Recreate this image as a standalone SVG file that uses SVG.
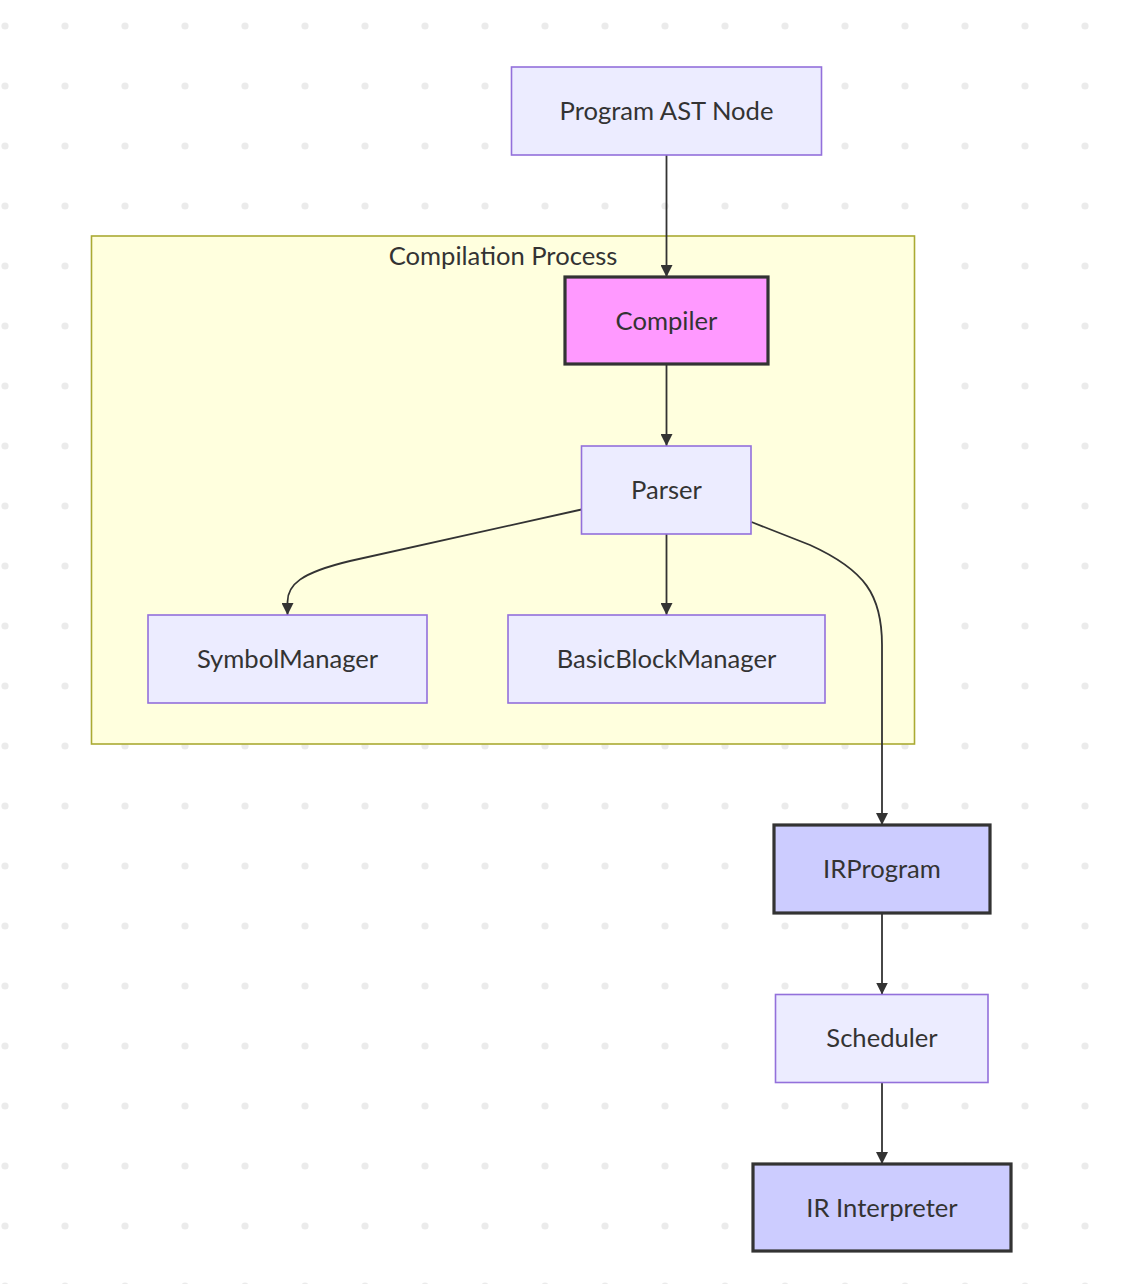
<svg xmlns="http://www.w3.org/2000/svg" width="1132" height="1284" viewBox="0 0 1132 1284">
<style>
.node rect{fill:#ececff;stroke:#9370db;stroke-width:1.6}
.node.comp rect{fill:#ff99ff;stroke:#333333;stroke-width:3.2}
.node.ir rect{fill:#ccccff;stroke:#333333;stroke-width:3.2}
text{font-family:Lato,"Liberation Sans",sans-serif;font-size:25.6px;fill:#333333;text-anchor:middle}
.edge{fill:none;stroke:#333333;stroke-width:1.8}
</style>
<defs>
<pattern id="dots" x="0" y="0" width="60" height="60" patternUnits="userSpaceOnUse">
<circle cx="5" cy="26" r="3.6" fill="#ebebeb"/>
</pattern>
<marker id="arrow" viewBox="0 0 10 10" refX="10" refY="5" markerUnits="userSpaceOnUse" markerWidth="12" markerHeight="12" orient="auto">
<path d="M0,0 L10,5 L0,10 z" fill="#333333"/>
</marker>
</defs>
<rect x="0" y="0" width="1132" height="1284" fill="#ffffff"/>
<rect x="0" y="0" width="1132" height="1284" fill="url(#dots)"/>
<g id="cluster-compilation">
<rect x="91.5" y="236" width="823" height="508" fill="#ffffde" stroke="#aaaa33" stroke-width="1.6"/>
<text x="503" y="265">Compilation Process</text>
</g>
<g id="connectors">
<path class="edge" d="M666.5,155 L666.5,277" marker-end="url(#arrow)"/>
<path class="edge" d="M666.5,365 L666.5,446" marker-end="url(#arrow)"/>
<path class="edge" d="M666.5,534 L666.5,615" marker-end="url(#arrow)"/>
<path class="edge" d="M581.5,509.5 L350,561 C300,573 287.5,585 287.5,602 L287.5,615" marker-end="url(#arrow)"/>
<path class="edge" d="M751.5,522 L810,545 C865,570 882,595 882,645 L882,825" marker-end="url(#arrow)"/>
<path class="edge" d="M882,913 L882,994.5" marker-end="url(#arrow)"/>
<path class="edge" d="M882,1082.5 L882,1164" marker-end="url(#arrow)"/>
</g>
<g id="node-program" class="node"><rect x="511.5" y="67" width="310" height="88"/><text x="666.5" y="120">Program AST Node</text></g>
<g id="node-compiler" class="node comp"><rect x="565" y="277" width="203" height="87"/><text x="666.5" y="329.5">Compiler</text></g>
<g id="node-parser" class="node"><rect x="581.5" y="446" width="169.5" height="88"/><text x="666.5" y="499">Parser</text></g>
<g id="node-symbol" class="node"><rect x="148" y="615" width="279" height="88"/><text x="287.5" y="668">SymbolManager</text></g>
<g id="node-bbm" class="node"><rect x="508" y="615" width="317" height="88"/><text x="666.5" y="668">BasicBlockManager</text></g>
<g id="node-irprogram" class="node ir"><rect x="774" y="825" width="216" height="88"/><text x="882" y="878">IRProgram</text></g>
<g id="node-scheduler" class="node"><rect x="775.5" y="994.5" width="212.5" height="88"/><text x="882" y="1047">Scheduler</text></g>
<g id="node-interp" class="node ir"><rect x="753" y="1164" width="258" height="87"/><text x="882" y="1216.5">IR Interpreter</text></g>
</svg>
